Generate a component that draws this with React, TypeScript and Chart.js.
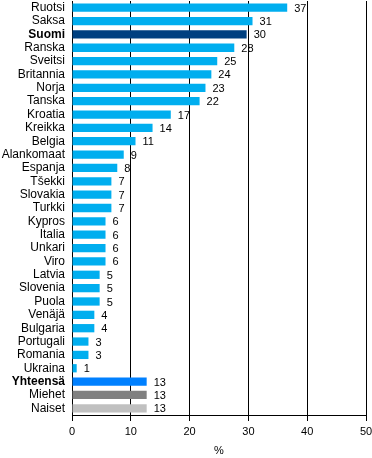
import React, { useEffect, useRef } from 'react';
import { Chart, registerables } from 'chart.js';

Chart.register(...registerables);

const categories = [
  'Ruotsi', 'Saksa', 'Suomi', 'Ranska', 'Sveitsi', 'Britannia', 'Norja', 'Tanska',
  'Kroatia', 'Kreikka', 'Belgia', 'Alankomaat', 'Espanja', 'Tšekki', 'Slovakia', 'Turkki',
  'Kypros', 'Italia', 'Unkari', 'Viro', 'Latvia', 'Slovenia', 'Puola', 'Venäjä',
  'Bulgaria', 'Portugali', 'Romania', 'Ukraina', 'Yhteensä', 'Miehet', 'Naiset',
];

const values = [
  36.6, 30.7, 29.7, 27.6, 24.7, 23.7, 22.7, 21.7,
  16.8, 13.7, 10.8, 8.8, 7.7, 6.7, 6.7, 6.7,
  5.7, 5.7, 5.7, 5.7, 4.7, 4.7, 4.7, 3.8,
  3.8, 2.8, 2.8, 0.8, 12.7, 12.7, 12.7,
];

const valueLabels = [
  37, 31, 30, 28, 25, 24, 23, 22,
  17, 14, 11, 9, 8, 7, 7, 7,
  6, 6, 6, 6, 5, 5, 5, 4,
  4, 3, 3, 1, 13, 13, 13,
];

const boldCategories = ['Suomi', 'Yhteensä'];
const xAxisTitle = '%';
const xMin = 0;
const xMax = 50;
const xStep = 10;

const FONT = '"Liberation Sans", Arial, Helvetica, sans-serif';
const LIGHT_BLUE = '#00aeef';
const DARK_BLUE = '#004080';
const TOTAL_BLUE = '#0080ff';
const MEN_GRAY = '#808080';
const WOMEN_GRAY = '#c0c0c0';

const barColors = categories.map((c) => {
  if (c === 'Suomi') return DARK_BLUE;
  if (c === 'Yhteensä') return TOTAL_BLUE;
  if (c === 'Miehet') return MEN_GRAY;
  if (c === 'Naiset') return WOMEN_GRAY;
  return LIGHT_BLUE;
});

const valueLabelPlugin = {
  id: 'valueLabels',
  afterDatasetsDraw(chart: any) {
    const ctx = chart.ctx;
    const meta = chart.getDatasetMeta(0);
    ctx.save();
    ctx.font = `11px ${FONT}`;
    ctx.fillStyle = '#000';
    ctx.textAlign = 'left';
    ctx.textBaseline = 'middle';
    meta.data.forEach((bar: any, i: number) => {
      ctx.fillText(String(valueLabels[i]), bar.x + 7, bar.y + 1);
    });
    ctx.restore();
  },
};

export default function App() {
  const canvasRef = useRef<HTMLCanvasElement | null>(null);

  useEffect(() => {
    document.body.style.margin = '0';
    const canvas = canvasRef.current;
    if (!canvas) return;
    const chart = new Chart(canvas, {
      type: 'bar',
      data: {
        labels: categories,
        datasets: [
          {
            data: values,
            backgroundColor: barColors,
            borderWidth: 0,
            barPercentage: 0.62,
            categoryPercentage: 1,
          },
        ],
      },
      options: {
        indexAxis: 'y',
        animation: false,
        responsive: true,
        maintainAspectRatio: false,
        layout: { padding: { top: 1, right: 6, left: 0, bottom: 0 } },
        plugins: {
          legend: { display: false },
          tooltip: { enabled: false },
          title: { display: false },
        },
        scales: {
          x: {
            min: xMin,
            max: xMax,
            ticks: {
              stepSize: xStep,
              color: '#000',
              font: { size: 11, family: FONT },
              padding: 4,
              maxRotation: 0,
            },
            grid: { color: '#000', lineWidth: 1, tickLength: 6, drawTicks: true },
            border: { display: true, color: '#000', width: 1 },
            title: {
              display: true,
              text: xAxisTitle,
              color: '#000',
              font: { size: 11, family: FONT },
              padding: { top: 4, bottom: 0 },
            },
            afterFit: (s: any) => {
              s.height = 43;
              s.paddingLeft = 0;
              s.paddingRight = 0;
            },
          },
          y: {
            ticks: {
              color: '#000',
              autoSkip: false,
              padding: 7,
              font: (c: any) => ({
                size: 12,
                family: FONT,
                weight: boldCategories.includes(categories[c.index]) ? 'bold' : 'normal',
              }),
            },
            grid: { display: false, drawTicks: false },
            border: { display: true, color: '#000', width: 1 },
            afterFit: (s: any) => {
              s.width = 72;
              s.paddingTop = 0;
              s.paddingBottom = 0;
            },
          },
        },
      },
      plugins: [valueLabelPlugin],
    });
    return () => chart.destroy();
  }, []);

  return (
    <div style={{ width: 372, height: 458, position: 'relative' }}>
      <canvas ref={canvasRef} />
    </div>
  );
}
